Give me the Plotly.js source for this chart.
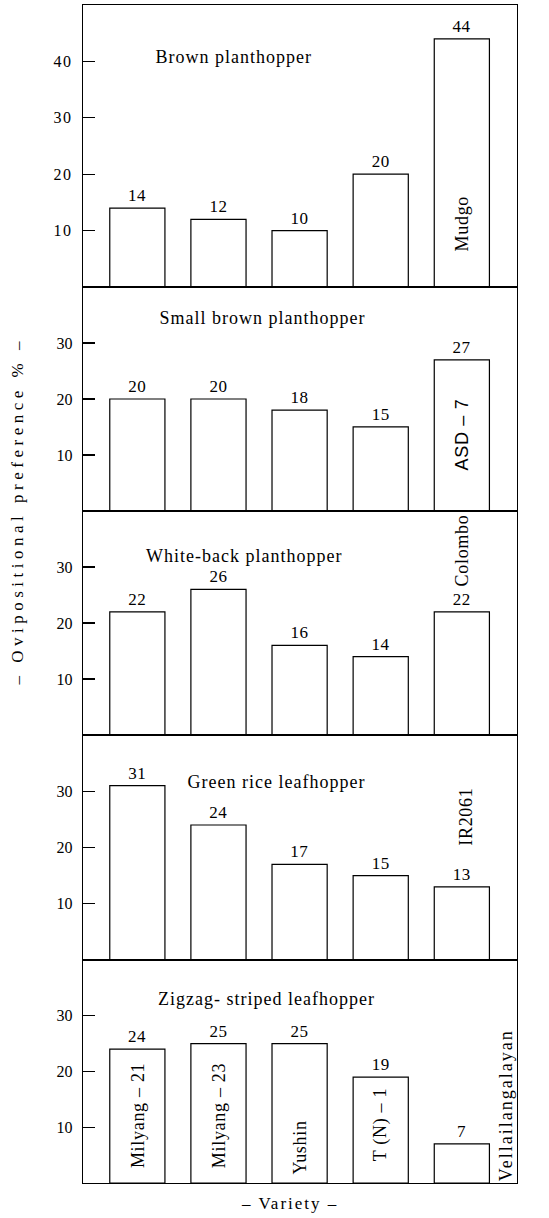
<!DOCTYPE html>
<html>
<head>
<meta charset="utf-8">
<script src="https://cdn.plot.ly/plotly-3.0.1.min.js"></script>
<style>
  html, body { margin: 0; padding: 0; background: #fff; }
  #chart { width: 549px; height: 1218px; }
  #chart .ytick text { letter-spacing: 1.5px; }
  #chart text.bartext { letter-spacing: 0.5px; }
  #chart .annotation-text { letter-spacing: 1px; }
  #chart g.annotation[data-index="5"] text,
  #chart g.annotation[data-index="6"] text,
  #chart g.annotation[data-index="7"] text,
  #chart g.annotation[data-index="8"] text,
  #chart g.annotation[data-index="9"] text,
  #chart g.annotation[data-index="10"] text,
  #chart g.annotation[data-index="11"] text,
  #chart g.annotation[data-index="12"] text { letter-spacing: 0.7px; }
  #chart g.annotation[data-index="13"] text { letter-spacing: 2px; }
  #chart g.annotation[data-index="14"] text { letter-spacing: 4.5px; }
  #chart g.annotation[data-index="15"] text { letter-spacing: 2px; }
</style>
</head>
<body>
<div id="chart"></div>
<script>
// ---- data ----
const commonVarieties = ["Milyang – 21", "Milyang – 23", "Yushin", "T (N) – 1"];
const checkVarieties = ["Mudgo", "ASD – 7", "Colombo", "IR2061", "Vellailangalayan"];
const insects = ["Brown planthopper", "Small brown planthopper", "White-back planthopper",
                 "Green rice leafhopper", "Zigzag- striped leafhopper"];
const brownPlanthopper      = [14, 12, 10, 20, 44];
const smallBrownPlanthopper = [20, 20, 18, 15, 27];
const whiteBackPlanthopper  = [22, 26, 16, 14, 22];
const greenRiceLeafhopper   = [31, 24, 17, 15, 13];
const zigzagLeafhopper      = [24, 25, 25, 19, 7];
const yTicks = [[10, 20, 30, 40], [10, 20, 30], [10, 20, 30], [10, 20, 30], [10, 20, 30]];
const yTitle = "– Ovipositional preference % –";
const xTitle = "– Variety –";

// ---- styling / layout ----
const seriesList = [brownPlanthopper, smallBrownPlanthopper, whiteBackPlanthopper, greenRiceLeafhopper, zigzagLeafhopper];
const yMax = [50, 40, 40, 40, 40];
const domains = [[0.7606, 1], [0.5705, 0.7606], [0.3803, 0.5705], [0.1893, 0.3803], [0, 0.1893]];
const serif = "Liberation Serif, Times New Roman, serif";
const titlePos = [[233, 40.8], [262, 34.5], [244, 32], [276, 31.6], [266, 33]]; // x px, y value
const labelPlacement = [
  {panel: 0, idx: 4, y: 11.2},
  {panel: 1, idx: 4, y: 13.7},
  {panel: 2, idx: 4, y: 33.0},
  {panel: 3, idx: 4.04, y: 25.5},
  {panel: 4, idx: 0, y: 12.1},
  {panel: 4, idx: 1, y: 12.1},
  {panel: 4, idx: 2, y: 6.3},
  {panel: 4, idx: 3, y: 10.5},
  {panel: 4, idx: 4.54, y: 13.9}
];

const traces = [];
const layout = {
  width: 549, height: 1218,
  margin: {l: 83, r: 32, t: 5, b: 35},
  paper_bgcolor: "#fff", plot_bgcolor: "#fff",
  showlegend: false,
  font: {family: serif, color: "#000", size: 15},
  annotations: []
};

seriesList.forEach((vals, i) => {
  const n = i === 0 ? "" : String(i + 1);
  const cats = commonVarieties.concat([checkVarieties[i]]);
  traces.push({
    type: "bar",
    x: cats.map((c, k) => k),
    y: vals,
    text: vals.map(String),
    textposition: "outside",
    textfont: {family: serif, size: 17, color: "#000"},
    cliponaxis: false,
    width: 0.68,
    marker: {color: "#fff", line: {color: "#000", width: 1.2}},
    xaxis: "x" + n, yaxis: "y" + n,
    hoverinfo: "skip"
  });
  layout["xaxis" + n] = {
    domain: [0, 1], anchor: "y" + n,
    range: [-0.67, 4.68],
    showticklabels: false, ticks: "",
    showgrid: false, zeroline: false,
    showline: true, linecolor: "#000", linewidth: 1.3, mirror: true,
    fixedrange: true
  };
  layout["yaxis" + n] = {
    domain: domains[i], anchor: "x" + n,
    range: [0, yMax[i]],
    tickvals: yTicks[i],
    ticks: "inside", ticklen: 12, tickwidth: 1.2, tickcolor: "#000",
    ticklabelstandoff: 6,
    tickfont: {family: serif, size: 16, color: "#000"},
    showgrid: false, zeroline: false,
    showline: true, linecolor: "#000", linewidth: 1.3, mirror: true,
    fixedrange: true
  };
  layout.annotations.push({
    text: insects[i], xref: "paper", yref: "y" + n,
    x: (titlePos[i][0] - 83) / 434, y: titlePos[i][1],
    xanchor: "center", yanchor: "middle", showarrow: false,
    font: {family: serif, size: 18, color: "#000"}
  });
});

labelPlacement.forEach(p => {
  const n = p.panel === 0 ? "" : String(p.panel + 1);
  const name = p.panel === 4 && p.idx < 4 ? commonVarieties[p.idx]
             : checkVarieties[p.panel];
  layout.annotations.push({
    text: name, xref: "x" + n, yref: "y" + n,
    x: p.idx, y: p.y, textangle: -90,
    xanchor: "center", yanchor: "middle", showarrow: false,
    font: {family: p.panel === 1 ? "Liberation Sans, Arial, sans-serif" : serif, size: 18, color: "#000"}
  });
});

layout.annotations.push({
  text: yTitle, xref: "paper", yref: "paper",
  x: (18 - 83) / 434, y: (1183 - 511) / 1178,
  xanchor: "center", yanchor: "middle", textangle: -90, showarrow: false,
  font: {family: serif, size: 17, color: "#000"}
});
layout.annotations.push({
  text: xTitle, xref: "paper", yref: "paper",
  x: (290 - 83) / 434, y: (1183 - 1203) / 1178,
  xanchor: "center", yanchor: "middle", showarrow: false,
  font: {family: serif, size: 17, color: "#000"}
});

Plotly.newPlot("chart", traces, layout, {displayModeBar: false, staticPlot: true});
</script>
</body>
</html>
